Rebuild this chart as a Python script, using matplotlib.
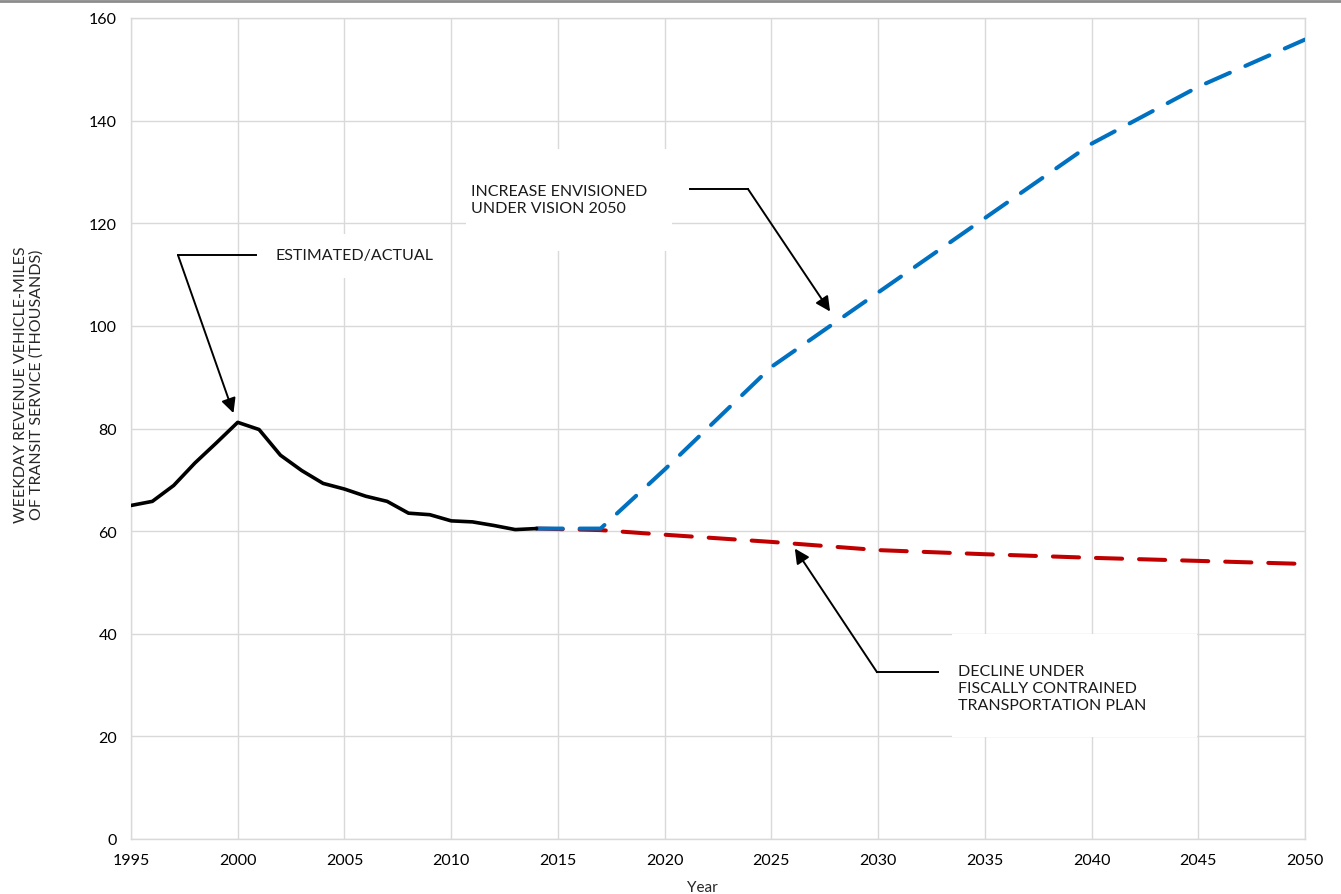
import matplotlib
matplotlib.use('Agg')
import matplotlib.pyplot as plt
from matplotlib.patches import Rectangle
from matplotlib.lines import Line2D

# estimated / actual service, thousands of weekday revenue vehicle-miles
years_actual = list(range(1995, 2015))
actual = [65.0, 65.8, 68.9, 73.3, 77.2, 81.2, 79.8, 74.8, 71.8, 69.3,
          68.2, 66.8, 65.8, 63.5, 63.2, 62.0, 61.8, 61.1, 60.3, 60.5]

# increase envisioned under Vision 2050
years_vision = [2014, 2017, 2020, 2025, 2030, 2035, 2040, 2045, 2050]
vision = [60.5, 60.5, 72.0, 92.0, 106.5, 121.0, 135.5, 146.6, 155.8]

# decline under fiscally constrained plan
years_fiscal = [2014, 2017, 2020, 2025, 2030, 2035, 2040, 2045, 2050]
fiscal = [60.5, 60.2, 59.3, 57.9, 56.3, 55.5, 54.8, 54.2, 53.6]

x_ticks = list(range(1995, 2051, 5))
y_ticks = list(range(0, 161, 20))

plt.rcParams['font.family'] = ['Lato', 'DejaVu Sans']

fig = plt.figure(figsize=(13.41, 8.95), dpi=100)
ax = fig.add_axes([131 / 1341, 1 - 840 / 895, 1174 / 1341, 821 / 895])

ax.plot(years_fiscal, fiscal, color='#c00000', lw=2.9,
        linestyle=(0, (6.5, 4.2)), dash_capstyle='round', zorder=2)
ax.plot(years_vision, vision, color='#0070c0', lw=2.9,
        linestyle=(0, (6.5, 4.2)), dash_capstyle='round', zorder=3)
ax.plot(years_actual, actual, color='black', lw=2.6,
        solid_joinstyle='round', solid_capstyle='round', zorder=4)

ax.set_xlim(1995, 2050)
ax.set_ylim(0, 160)
ax.set_xticks(x_ticks)
ax.set_yticks(y_ticks)
ax.tick_params(length=0, labelsize=11.5, colors='black')
ax.tick_params(axis='x', pad=10)
ax.tick_params(axis='y', pad=10)
ax.grid(True, color='#d9d9d9', lw=1)
ax.set_axisbelow(True)
for s in ax.spines.values():
    s.set_color('#d9d9d9')
    s.set_linewidth(1)

ax.set_xlabel('Year', fontsize=11, color='#262626')
ax.xaxis.set_label_coords((702 - 131) / 1174, -0.05)
ax.text(-0.087, 0.554,
        'WEEKDAY REVENUE VEHICLE-MILES\nOF TRANSIT SERVICE (THOUSANDS)',
        transform=ax.transAxes, rotation=90, ha='center', va='center',
        fontsize=11.5, color='#262626', linespacing=1.1)

# white text boxes hiding the grid
for x0, x1, y0, y1 in [(2001.1, 2009.5, 109.3, 117.9),
                       (2010.7, 2020.35, 114.6, 134.5),
                       (2033.45, 2044.95, 19.9, 40.0)]:
    ax.add_patch(Rectangle((x0, y0), x1 - x0, y1 - y0, facecolor='white',
                           edgecolor='none', zorder=1))

arrow = dict(arrowstyle='-|>', color='black', lw=1.4, mutation_scale=22,
             shrinkA=0, shrinkB=0)

# estimated / actual callout
ax.plot([1997.2, 2000.85], [113.8, 113.8], color='black', lw=1.4, zorder=5)
ax.annotate('', xy=(1999.8, 83.0), xytext=(1997.2, 113.8),
            arrowprops=arrow, zorder=5)
ax.text(2001.75, 113.8, 'ESTIMATED/ACTUAL', fontsize=11.5, color='#1a1a1a',
        ha='left', va='center', zorder=6)

# vision 2050 callout
ax.plot([2021.2, 2023.9], [126.7, 126.7], color='black', lw=1.4, zorder=5)
ax.annotate('', xy=(2027.75, 102.8), xytext=(2023.9, 126.7),
            arrowprops=arrow, zorder=5)
ax.text(2010.95, 124.6, 'INCREASE ENVISIONED\nUNDER VISION 2050',
        fontsize=11.5, color='#1a1a1a', ha='left', va='center',
        linespacing=1.3, zorder=6)

# fiscally constrained callout
ax.plot([2029.95, 2032.8], [32.5, 32.5], color='black', lw=1.4, zorder=5)
ax.annotate('', xy=(2026.1, 56.6), xytext=(2029.95, 32.5),
            arrowprops=arrow, zorder=5)
ax.text(2033.75, 29.4,
        'DECLINE UNDER\nFISCALLY CONTRAINED\nTRANSPORTATION PLAN',
        fontsize=11.5, color='#1a1a1a', ha='left', va='center',
        linespacing=1.3, zorder=6)

# thin rule along the top edge
fig.add_artist(Line2D([0, 1], [1 - 2 / 895, 1 - 2 / 895],
                      transform=fig.transFigure, color='#8c8c8c', lw=2))

fig.savefig('out.png', dpi=100)
